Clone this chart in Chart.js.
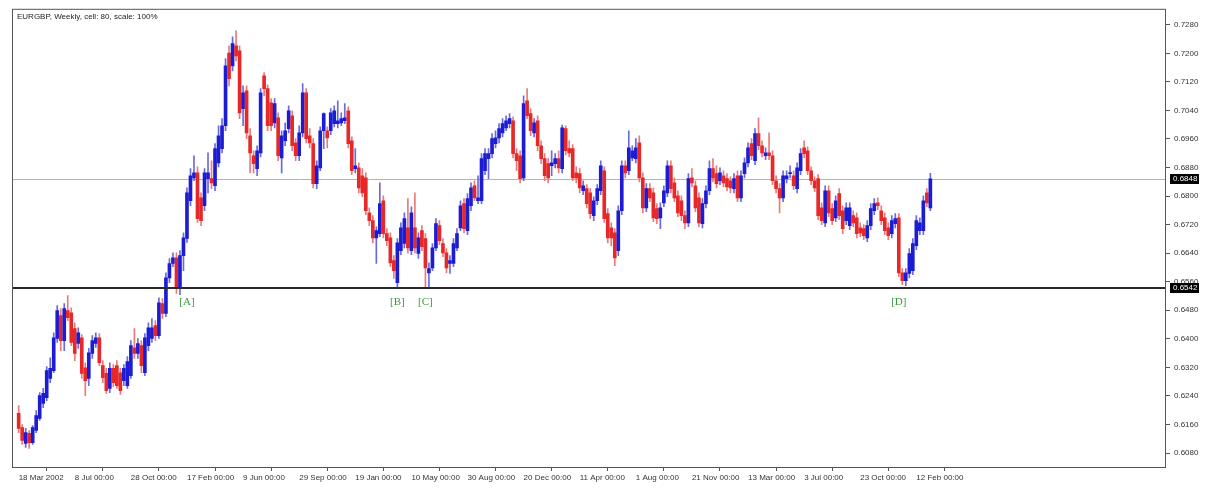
<!DOCTYPE html>
<html>
<head>
<meta charset="utf-8">
<script src="https://cdn.jsdelivr.net/npm/chart.js@4.4.1/dist/chart.umd.min.js"></script>
<style>
html, body { margin: 0; padding: 0; background: #fff; }
</style>
</head>
<body>
<canvas id="chart" width="1213" height="488"></canvas>
<script>
// EURGBP weekly candles (one entry per week from 18 Mar 2002)
const openP = [
  .6191,.6151,.6107,.6135,.6109,.6143,.6177,.6219,.6235,.6289,
  .6311,.6401,.6465,.6395,.6479,.6473,.6429,.6387,.6403,.6319,
  .6289,.6359,.6387,.6403,.6325,.6303,.6261,.6317,.6325,.6305,
  .6283,.6269,.6297,.6375,.6359,.6381,.6305,.6381,.6401,.6437,
  .6409,.6499,.6471,.6571,.6611,.6627,.6541,.6633,.6681,.6787,
  .6851,.6865,.6795,.6773,.6849,.6849,.6829,.6893,.6933,.6997,
  .7201,.7165,.7221,.7207,.7045,.7095,.6969,.6913,.6877,.6921,
  .7137,.7101,.7061,.7005,.7019,.6907,.6955,.6989,.7025,.6949,
  .6913,.6977,.7089,.6969,.6947,.6835,.6879,.6983,.6983,.6983,
  .7003,.7003,.7005,.7011,.7039,.6955,.6877,.6879,.6857,.6851,
  .6753,.6731,.6683,.6695,.6787,.6695,.6683,.6619,.6557,.6647,
  .6667,.6711,.6647,.6711,.6639,.6703,.6681,.6585,.6599,.6655,
  .6717,.6667,.6641,.6611,.6611,.6655,.6711,.6779,.6703,.6773,
  .6829,.6787,.6787,.6871,.6905,.6919,.6947,.6963,.6977,.6991,
  .7003,.7011,.6919,.6913,.6851,.7067,.7031,.6977,.7011,.6941,
  .6905,.6891,.6885,.6891,.6905,.6877,.6989,.6933,.6933,.6865,
  .6863,.6815,.6821,.6809,.6745,.6787,.6815,.6871,.6751,.6711,
  .6697,.6647,.6759,.6885,.6871,.6907,.6905,.6949,.6851,.6767,
  .6821,.6809,.6765,.6739,.6781,.6809,.6885,.6837,.6801,.6787,
  .6745,.6725,.6851,.6829,.6795,.6723,.6779,.6815,.6877,.6863,
  .6843,.6857,.6849,.6843,.6821,.6857,.6795,.6863,.6893,.6947,
  .6899,.6975,.6941,.6913,.6921,.6913,.6843,.6821,.6795,.6849,
  .6863,.6857,.6821,.6871,.6935,.6927,.6871,.6843,.6849,.6767,
  .6725,.6815,.6765,.6739,.6807,.6759,.6731,.6717,.6745,.6739,
  .6711,.6709,.6683,.6717,.6759,.6781,.6759,.6739,.6711,.6695,
  .6723,.6739,.6585,.6563,.6583,.6591,.6661,.6703,.6703,.6809,
  .6767
];
const highP = [
  .6213,.6160,.6149,.6143,.6157,.6199,.6249,.6261,.6322,.6347,
  .6417,.6493,.6485,.6499,.6521,.6487,.6445,.6431,.6412,.6333,
  .6373,.6409,.6417,.6415,.6339,.6317,.6333,.6328,.6339,.6317,
  .6328,.6350,.6395,.6429,.6401,.6395,.6415,.6445,.6457,.6451,
  .6515,.6513,.6585,.6625,.6641,.6641,.6647,.6697,.6823,.6877,
  .6913,.6882,.6809,.6877,.6921,.6899,.6947,.6997,.7017,.7185,
  .7221,.7246,.7263,.7221,.7109,.7109,.6989,.6927,.6941,.7101,
  .7146,.7112,.7073,.7073,.7033,.6983,.7005,.7053,.7039,.6961,
  .6997,.7115,.7101,.6989,.6961,.6899,.6994,.7033,.6994,.7045,
  .7053,.7067,.7033,.7059,.7050,.6966,.6933,.6893,.6877,.6865,
  .6767,.6745,.6714,.6837,.6801,.6709,.6697,.6633,.6681,.6725,
  .6753,.6793,.6770,.6809,.6697,.6717,.6695,.6613,.6667,.6737,
  .6731,.6681,.6653,.6633,.6681,.6709,.6787,.6793,.6807,.6837,
  .6843,.6857,.6919,.6933,.6933,.6975,.6983,.7003,.7017,.7025,
  .7031,.7022,.6933,.6927,.7081,.7101,.7045,.7017,.7025,.6955,
  .6919,.6905,.6927,.6919,.6927,.6999,.6997,.6955,.6944,.6882,
  .6877,.6843,.6832,.6821,.6798,.6832,.6899,.6882,.6765,.6725,
  .6709,.6773,.6899,.6899,.6983,.6941,.6961,.6969,.6865,.6835,
  .6835,.6823,.6779,.6781,.6829,.6899,.6899,.6851,.6815,.6801,
  .6759,.6863,.6877,.6843,.6809,.6793,.6829,.6899,.6905,.6885,
  .6879,.6871,.6863,.6854,.6863,.6871,.6871,.6907,.6949,.6961,
  .6989,.7019,.6955,.6935,.6977,.6927,.6857,.6835,.6871,.6871,
  .6885,.6871,.6893,.6933,.6955,.6938,.6882,.6854,.6860,.6781,
  .6829,.6829,.6779,.6801,.6821,.6773,.6781,.6781,.6759,.6753,
  .6725,.6720,.6731,.6779,.6793,.6795,.6773,.6753,.6725,.6745,
  .6751,.6751,.6597,.6597,.6653,.6681,.6745,.6739,.6801,.6821,
  .6864
];
const lowP = [
  .6137,.6104,.6096,.6093,.6104,.6137,.6171,.6207,.6227,.6277,
  .6305,.6390,.6367,.6367,.6451,.6381,.6339,.6373,.6289,.6241,
  .6269,.6345,.6376,.6325,.6277,.6247,.6249,.6266,.6261,.6244,
  .6269,.6261,.6289,.6345,.6345,.6305,.6297,.6367,.6390,.6395,
  .6401,.6457,.6462,.6557,.6602,.6527,.6524,.6591,.6670,.6773,
  .6843,.6726,.6717,.6759,.6809,.6821,.6815,.6882,.6921,.6983,
  .7109,.7151,.7179,.7017,.6997,.6961,.6865,.6865,.6857,.6910,
  .7081,.6983,.6983,.6991,.6899,.6865,.6941,.6977,.6927,.6899,
  .6899,.6966,.6949,.6935,.6823,.6821,.6871,.6933,.6935,.6972,
  .6994,.6991,.6997,.7003,.6935,.6860,.6865,.6809,.6798,.6748,
  .6717,.6669,.6611,.6686,.6683,.6661,.6602,.6569,.6543,.6636,
  .6655,.6641,.6636,.6641,.6625,.6647,.6543,.6543,.6591,.6647,
  .6664,.6630,.6585,.6583,.6602,.6647,.6703,.6697,.6692,.6759,
  .6787,.6779,.6779,.6860,.6849,.6907,.6935,.6949,.6966,.6983,
  .6991,.6907,.6871,.6837,.6843,.7017,.6969,.6966,.6927,.6891,
  .6843,.6837,.6857,.6879,.6865,.6865,.6915,.6910,.6843,.6837,
  .6809,.6804,.6767,.6737,.6731,.6776,.6804,.6726,.6669,.6661,
  .6605,.6633,.6748,.6851,.6860,.6899,.6893,.6840,.6753,.6756,
  .6784,.6728,.6723,.6709,.6770,.6798,.6809,.6784,.6742,.6731,
  .6709,.6714,.6826,.6756,.6714,.6711,.6767,.6804,.6840,.6823,
  .6832,.6826,.6815,.6809,.6809,.6784,.6784,.6851,.6882,.6902,
  .6888,.6930,.6910,.6902,.6902,.6832,.6809,.6753,.6784,.6837,
  .6851,.6818,.6809,.6860,.6907,.6860,.6832,.6812,.6734,.6720,
  .6714,.6742,.6720,.6728,.6734,.6695,.6720,.6706,.6714,.6683,
  .6686,.6678,.6672,.6706,.6748,.6762,.6720,.6692,.6678,.6683,
  .6711,.6574,.6552,.6549,.6571,.6580,.6650,.6692,.6692,.6770,
  .6759
];
const closeP = [
  .6149,.6115,.6137,.6109,.6151,.6185,.6241,.6247,.6311,.6317,
  .6403,.6479,.6395,.6485,.6459,.6390,.6359,.6417,.6303,.6283,
  .6361,.6395,.6403,.6333,.6291,.6255,.6317,.6277,.6269,.6255,
  .6317,.6336,.6381,.6359,.6387,.6325,.6403,.6431,.6431,.6409,
  .6501,.6471,.6571,.6611,.6627,.6541,.6633,.6683,.6809,.6857,
  .6865,.6737,.6731,.6865,.6865,.6837,.6933,.6969,.6997,.7165,
  .7129,.7227,.7193,.7033,.7089,.6977,.6921,.6891,.6927,.7089,
  .7101,.6997,.6997,.7059,.6913,.6969,.6983,.7039,.6941,.6913,
  .6977,.7089,.6961,.6949,.6835,.6885,.6983,.7031,.6963,.7033,
  .7039,.7011,.7017,.7019,.6947,.6871,.6885,.6823,.6809,.6759,
  .6731,.6683,.6703,.6779,.6695,.6675,.6613,.6591,.6669,.6711,
  .6737,.6655,.6753,.6655,.6683,.6658,.6599,.6597,.6655,.6723,
  .6675,.6641,.6599,.6619,.6667,.6695,.6773,.6709,.6793,.6823,
  .6795,.6795,.6905,.6919,.6919,.6961,.6963,.6989,.7003,.7011,
  .7017,.6919,.6899,.6849,.7059,.7025,.6983,.7005,.6941,.6905,
  .6857,.6851,.6893,.6905,.6879,.6991,.6927,.6921,.6851,.6851,
  .6823,.6829,.6779,.6751,.6787,.6821,.6885,.6737,.6683,.6683,
  .6627,.6759,.6885,.6865,.6935,.6927,.6935,.6851,.6767,.6821,
  .6795,.6739,.6737,.6767,.6815,.6885,.6821,.6795,.6753,.6745,
  .6725,.6849,.6837,.6767,.6725,.6779,.6815,.6877,.6851,.6835,
  .6865,.6837,.6826,.6823,.6849,.6795,.6857,.6893,.6935,.6913,
  .6975,.6941,.6921,.6921,.6913,.6843,.6821,.6795,.6857,.6857,
  .6865,.6829,.6879,.6919,.6919,.6871,.6843,.6823,.6745,.6731,
  .6815,.6753,.6731,.6787,.6745,.6709,.6767,.6767,.6725,.6695,
  .6697,.6689,.6717,.6765,.6779,.6773,.6731,.6703,.6689,.6731,
  .6737,.6585,.6563,.6585,.6639,.6667,.6731,.6725,.6787,.6781,
  .6848
];

// axis ticks
const tickWeeks = [0, 16, 32, 48, 64, 80, 96, 112, 128, 144, 160, 176, 192, 208, 224, 240, 256];
const tickLabels = ['18 Mar 2002', '8 Jul 00:00', '28 Oct 00:00', '17 Feb 00:00', '9 Jun 00:00',
  '29 Sep 00:00', '19 Jan 00:00', '10 May 00:00', '30 Aug 00:00', '20 Dec 00:00', '11 Apr 00:00',
  '1 Aug 00:00', '21 Nov 00:00', '13 Mar 00:00', '3 Jul 00:00', '23 Oct 00:00', '12 Feb 00:00'];
const priceTicks = [0.6080, 0.6160, 0.6240, 0.6320, 0.6400, 0.6480, 0.6560, 0.6640, 0.6720,
  0.6800, 0.6880, 0.6960, 0.7040, 0.7120, 0.7200, 0.7280];

// horizontal levels and the wave marks
const lastPrice = 0.6848;
const supportLevel = 0.6542;
const markText = ['[A]', '[B]', '[C]', '[D]'];
const markWeek = [48, 108, 116, 251];
const markPrice = [0.6502, 0.6502, 0.6502, 0.6502];

const title = 'EURGBP, Weekly, cell: 80, scale: 100%';

const UP = '#1c1cd2';
const DOWN = '#e62828';
const UP_WICK = '#6a6ae0';
const DOWN_WICK = '#ec7a7a';
const FONT = '"Liberation Sans", Arial, sans-serif';

const weeks = closeP.map((c, i) => i);
const bodies = weeks.map(i => ({ x: i, y: [openP[i], closeP[i]] }));
const wicks = weeks.map(i => ({ x: i, y: [lowP[i], highP[i]] }));
const bodyColors = weeks.map(i => closeP[i] >= openP[i] ? UP : DOWN);
const wickColors = weeks.map(i => closeP[i] >= openP[i] ? UP_WICK : DOWN_WICK);

// lignes, cadre, étiquettes de prix, titre
const decor = {
  id: 'decor',
  beforeDatasetsDraw(chart) {
    const { ctx, chartArea: a, scales: { y } } = chart;
    ctx.save();
    let py = Math.round(y.getPixelForValue(lastPrice)) + 0.5;
    ctx.strokeStyle = '#b4b4b4';
    ctx.lineWidth = 1;
    ctx.beginPath(); ctx.moveTo(a.left, py); ctx.lineTo(a.right, py); ctx.stroke();
    ctx.restore();
  },
  afterDatasetsDraw(chart) {
    const { ctx, chartArea: a, scales: { x, y } } = chart;
    ctx.save();
    let py = Math.round(y.getPixelForValue(supportLevel));
    ctx.strokeStyle = '#2a2a2a';
    ctx.lineWidth = 2;
    ctx.beginPath(); ctx.moveTo(a.left, py); ctx.lineTo(a.right, py); ctx.stroke();

    ctx.font = '11px "Liberation Serif", "Times New Roman", serif';
    ctx.fillStyle = '#3a9a3a';
    ctx.textAlign = 'center';
    ctx.textBaseline = 'middle';
    markText.forEach((t, k) => {
      ctx.fillText(t, x.getPixelForValue(markWeek[k]), y.getPixelForValue(markPrice[k]));
    });
    ctx.restore();
  },
  afterDraw(chart) {
    const { ctx, chartArea: a, scales: { y } } = chart;
    ctx.save();
    ctx.strokeStyle = '#555';
    ctx.lineWidth = 1;
    ctx.strokeRect(a.left + 0.5, a.top + 0.5, a.right - a.left - 1, a.bottom - a.top);

    ctx.font = '8px ' + FONT;
    ctx.textBaseline = 'middle';
    [lastPrice, supportLevel].forEach(v => {
      const py = Math.round(y.getPixelForValue(v));
      ctx.fillStyle = '#000';
      ctx.fillRect(a.right + 4, py - 5, 29, 10);
      ctx.fillStyle = '#fff';
      ctx.textAlign = 'left';
      ctx.fillText(v.toFixed(4), a.right + 7, py);
    });

    ctx.fillStyle = '#222';
    ctx.fillText(title, a.left + 5, a.top + 8);
    ctx.restore();
  }
};

new Chart(document.getElementById('chart'), {
  type: 'bar',
  data: {
    datasets: [
      { data: bodies, backgroundColor: bodyColors, barThickness: 3, minBarLength: 1,
        grouped: false, borderWidth: 0, order: 0 },
      { data: wicks, backgroundColor: wickColors, barThickness: 1,
        grouped: false, borderWidth: 0, order: 1 }
    ]
  },
  options: {
    responsive: false,
    animation: false,
    layout: { padding: { left: 12, top: 8, right: 0, bottom: 0 } },
    plugins: { legend: { display: false }, tooltip: { enabled: false } },
    scales: {
      x: {
        type: 'linear',
        offset: false,
        min: -1.9,
        max: 327.2,
        afterBuildTicks: s => { s.ticks = tickWeeks.map(v => ({ value: v })); },
        afterFit: s => { s.height = 21; },
        grid: { drawOnChartArea: false, drawTicks: true, tickLength: 4, color: '#555' },
        border: { display: false },
        ticks: {
          autoSkip: false, maxRotation: 0, align: 'start', padding: 2,
          color: '#333', font: { family: FONT, size: 8 },
          callback: (v, k) => tickLabels[k]
        }
      },
      y: {
        type: 'linear',
        position: 'right',
        min: 0.60408,
        max: 0.73248,
        afterBuildTicks: s => { s.ticks = priceTicks.map(v => ({ value: v })); },
        afterFit: s => { s.width = 47; },
        grid: { drawOnChartArea: false, drawTicks: true, tickLength: 4, color: '#555' },
        border: { display: false },
        ticks: {
          padding: 4, color: '#333', font: { family: FONT, size: 8 },
          callback: v => v.toFixed(4)
        }
      }
    }
  },
  plugins: [decor]
});
</script>
</body>
</html>
